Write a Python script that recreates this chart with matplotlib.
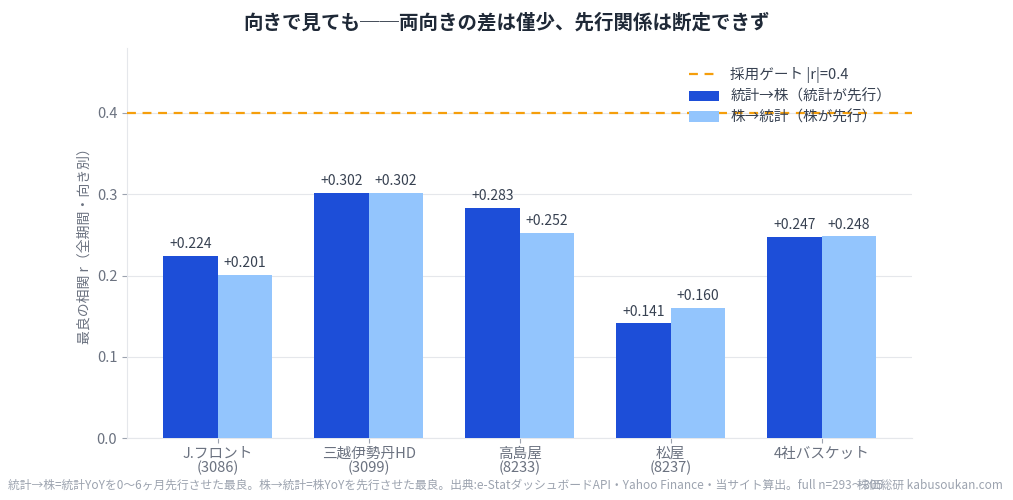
import matplotlib
matplotlib.use("Agg")
import matplotlib.pyplot as plt
import numpy as np

plt.rcParams['font.family'] = ['Noto Sans CJK JP', 'DejaVu Sans']

categories = ["J.フロント\n(3086)", "三越伊勢丹HD\n(3099)", "高島屋\n(8233)", "松屋\n(8237)", "4社バスケット"]
stat_to_stock = [0.224, 0.302, 0.283, 0.141, 0.247]
stock_to_stat = [0.201, 0.302, 0.252, 0.160, 0.248]
gate = 0.4

fig = plt.figure(figsize=(10.13, 5.0), dpi=100)
ax = fig.add_axes([0.1254, 0.124, 0.775, 0.78])

x = np.arange(len(categories))
w = 0.36
b1 = ax.bar(x - w/2, stat_to_stock, w, color="#1d4ed8", label="統計→株（統計が先行）", zorder=3)
b2 = ax.bar(x + w/2, stock_to_stat, w, color="#93c5fd", label="株→統計（株が先行）", zorder=3)
gl = ax.axhline(gate, color="#f59e0b", linestyle=(0, (4, 3)), linewidth=1.6, label="採用ゲート |r|=0.4", zorder=4)

for bars, vals in ((b1, stat_to_stock), (b2, stock_to_stat)):
    for r, v in zip(bars, vals):
        ax.text(r.get_x() + r.get_width()/2, v + 0.006, f"+{v:.3f}", ha="center", va="bottom",
                fontsize=10, color="#374151")

ax.set_xlim(-0.6, 4.6)
ax.set_ylim(0, 0.48)
ax.set_yticks([0.0, 0.1, 0.2, 0.3, 0.4])
ax.set_yticklabels(["0.0", "0.1", "0.2", "0.3", "0.4"])
ax.set_xticks(x)
ax.set_xticklabels(categories, fontsize=10.5, color="#6b7280", linespacing=1.0)
ax.tick_params(axis="y", labelsize=10.5, labelcolor="#6b7280", color="#9ca3af")
ax.tick_params(axis="x", color="#9ca3af", pad=3)
ax.set_ylabel("最良の相関 r（全期間・向き別）", fontsize=10, color="#6b7280")
ax.grid(axis="y", color="#e5e7eb", linewidth=0.8, zorder=0)
for s in ("top", "right"):
    ax.spines[s].set_visible(False)
for s in ("left", "bottom"):
    ax.spines[s].set_color("#e5e7eb")

ax.legend([gl, b1, b2], [gl.get_label(), b1.get_label(), b2.get_label()], loc="upper right",
          frameon=False, fontsize=10.5, labelcolor="#374151", bbox_to_anchor=(0.99, 0.985),
          labelspacing=0.45)

fig.text(0.5, 0.955, "向きで見ても──両向きの差は僅少、先行関係は断定できず", ha="center", va="center",
         fontsize=14, fontweight="bold", color="#1f2937")
fig.text(0.008, 0.03, "統計→株=統計YoYを0〜6ヶ月先行させた最良。株→統計=株YoYを先行させた最良。出典:e-StatダッシュボードAPI・Yahoo Finance・当サイト算出。full n=293〜305",
         ha="left", va="center", fontsize=8.5, color="#9ca3af")
fig.text(0.99, 0.03, "株価総研 kabusoukan.com", ha="right", va="center", fontsize=8.5, color="#9ca3af")

fig.savefig("out.png", dpi=100)
